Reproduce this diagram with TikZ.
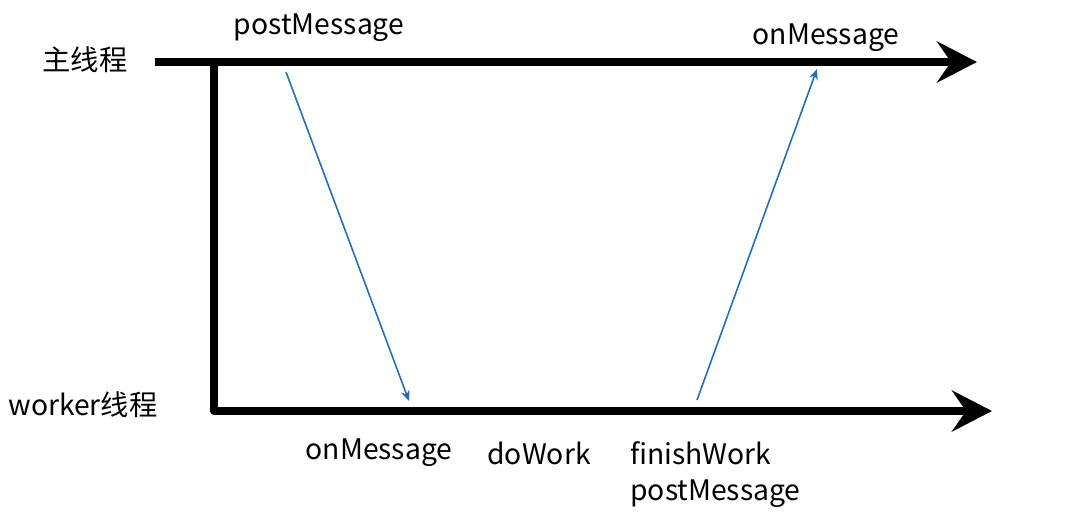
\documentclass[tikz,border=0pt]{standalone}
\usepackage{fontspec}
\setmainfont{Noto Sans CJK SC}
\usetikzlibrary{arrows.meta}
\definecolor{msgblue}{RGB}{35,110,185}
\tikzset{
  thread/.style={line width=4.5pt, -{Stealth[length=0.8cm, width=0.82cm, inset=0.28cm]}},
  msg/.style={draw=msgblue, line width=0.9pt, -{Stealth[length=6pt, width=5pt]}},
  lbl/.style={font=\fontsize{16.1}{20}\selectfont, inner sep=0pt}
}
\begin{document}
\begin{tikzpicture}[x=0.02cm, y=-0.02cm]
  \useasboundingbox (0,0) rectangle (1086,529);
  % threads
  \coordinate (mainstart) at (155,62);
  \coordinate (mainend) at (977,62);
  \coordinate (corner) at (214,65);
  \coordinate (bend) at (214,411);
  \coordinate (workend) at (992,411);
  \draw[thread] (mainstart) -- (mainend);
  \draw[thread, line join=round] (corner) -- (bend) -- (workend);
  \node[lbl] (mainlbl) at (85,60) {主线程};
  \node[lbl] (worklbl) at (83,405) {worker线程};
  % messages
  \node[lbl] (post1) at (319,28) {postMessage};
  \node[lbl] (on2) at (826,38) {onMessage};
  \node[lbl] (on1) at (379,453) {onMessage};
  \node[lbl] (dowork) at (539,453) {doWork};
  \node[lbl, anchor=west] (finish) at (630,453) {finishWork};
  \node[lbl, anchor=west] (post2) at (630,494) {postMessage};
  \coordinate (sendA) at (286,72);
  \coordinate (recvA) at (409,401);
  \coordinate (sendB) at (697,400);
  \coordinate (recvB) at (817,69);
  \draw[msg] (sendA) -- (recvA);
  \draw[msg] (sendB) -- (recvB);
\end{tikzpicture}
\end{document}
